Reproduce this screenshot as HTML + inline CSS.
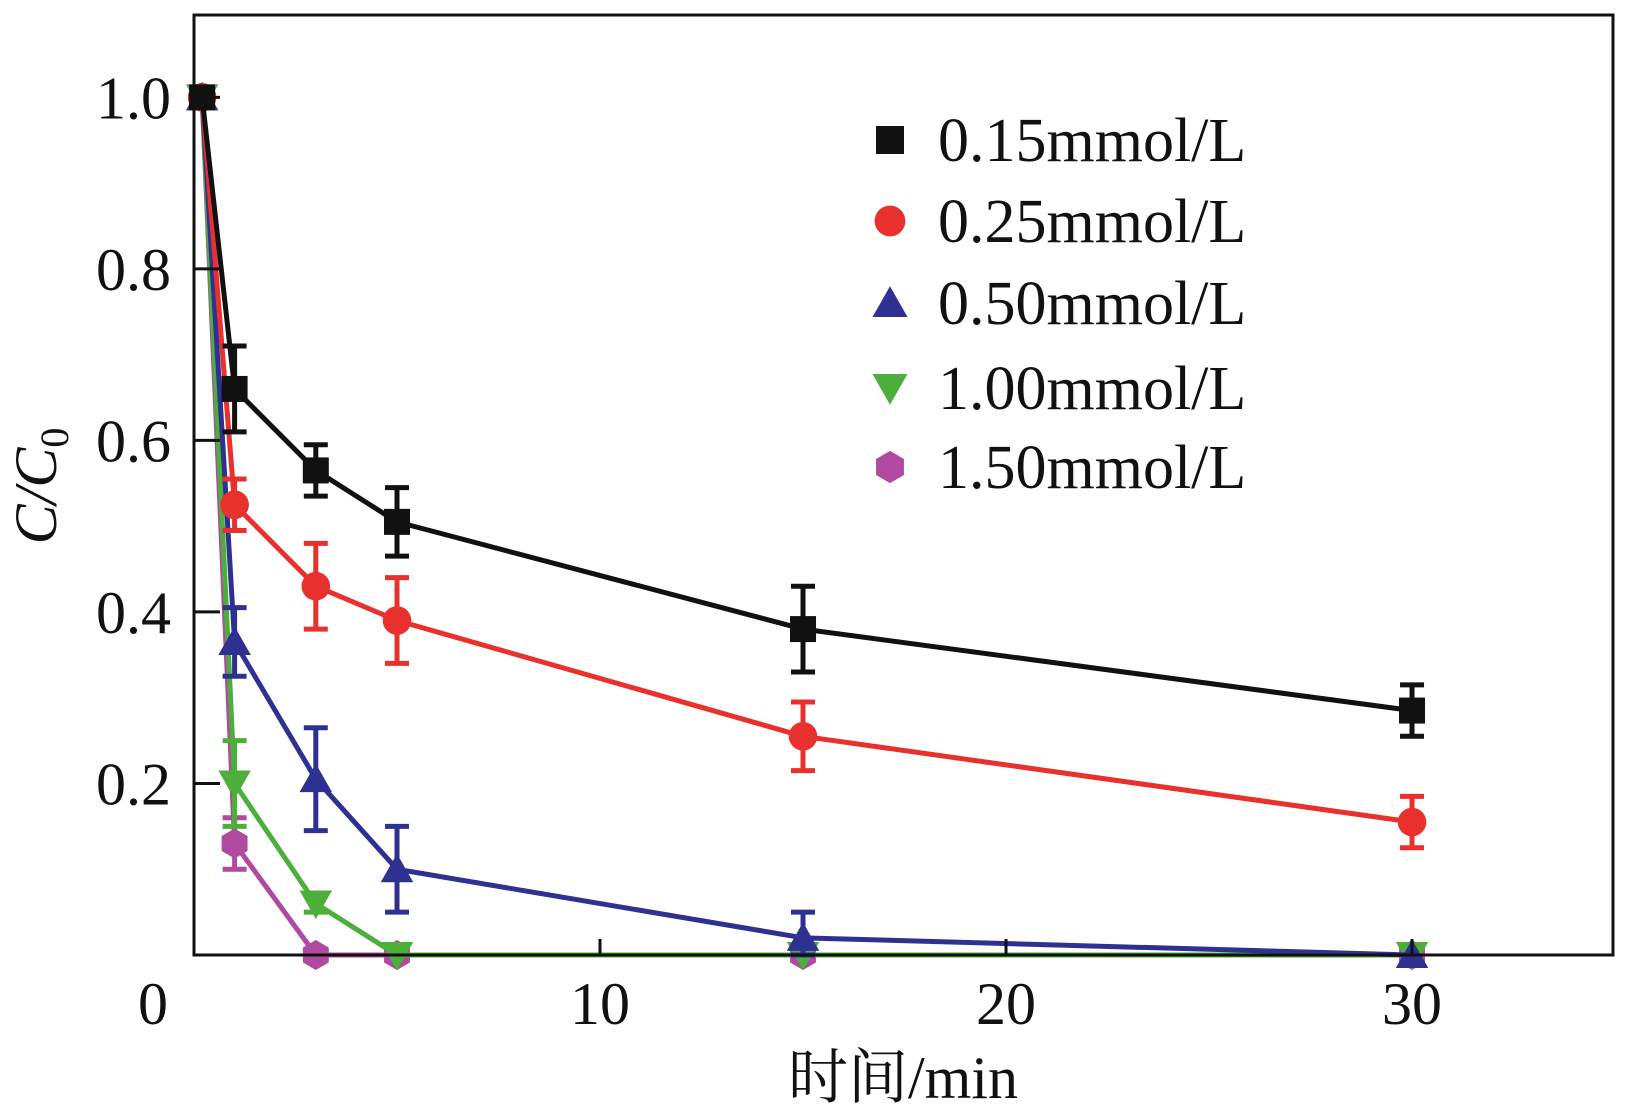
<!DOCTYPE html>
<html><head><meta charset="utf-8"><style>
html,body{margin:0;padding:0;background:#fff;}
svg{display:block;}
text{font-family:"Liberation Serif","Noto Serif CJK SC",serif;fill:#111;}
</style></head><body>
<svg id="chart" width="1625" height="1117" viewBox="0 0 1625 1117" xmlns="http://www.w3.org/2000/svg"></svg>
<script>
const timesMin = [0.2, 1, 3, 5, 15, 30];
const seriesNames = ["0.15mmol/L","0.25mmol/L","0.50mmol/L","1.00mmol/L","1.50mmol/L"];
const s015 = [1.0, 0.66, 0.565, 0.505, 0.38, 0.285];
const s025 = [1.0, 0.525, 0.43, 0.39, 0.255, 0.155];
const s050 = [1.0, 0.365, 0.205, 0.10, 0.02, 0.0];
const s100 = [1.0, 0.20, 0.06, 0.0, 0.0, 0.0];
const s150 = [1.0, 0.13, 0.0, 0.0, 0.0, 0.0];
const e015 = [0, 0.05, 0.03, 0.04, 0.05, 0.03];
const e025 = [0, 0.03, 0.05, 0.05, 0.04, 0.03];
const e050 = [0, 0.04, 0.06, 0.05, 0.03, 0];
const e100 = [0, 0.05, 0.01, 0, 0, 0];
const e150 = [0, 0.03, 0, 0, 0, 0];
const xTicks = [0, 10, 20, 30];
const yTicks = [0.2, 0.4, 0.6, 0.8, 1.0];
const yTickLabels = ["0.2","0.4","0.6","0.8","1.0"];

const L=194,R=1613,T=15,B=955;
const xMax=34.95,yMax=1.096;
const X=v=>L+(v/xMax)*(R-L);
const Y=v=>B-(v/yMax)*(B-T);
const NS="http://www.w3.org/2000/svg";
const svg=document.getElementById('chart');
function mk(tag,attrs,parent){const e=document.createElementNS(NS,tag);for(const k in attrs)e.setAttribute(k,attrs[k]);(parent||svg).appendChild(e);return e;}

const colors=["#111111","#e8312c","#2e3192","#4caf3a","#b04aa0"];
const series=[s015,s025,s050,s100,s150];
const errs=[e015,e025,e050,e100,e150];
const shapes=["square","circle","tri","tridown","hex"];

function marker(shape,cx,cy,s,color,parent){
  let el;
  if(shape==="square") el=mk('rect',{x:cx-s,y:cy-s,width:2*s,height:2*s,fill:color},parent);
  else if(shape==="circle") el=mk('circle',{cx:cx,cy:cy,r:s*1.1,fill:color},parent);
  else if(shape==="tri") el=mk('polygon',{points:`${cx},${cy-s*1.2} ${cx-s*1.25},${cy+s} ${cx+s*1.25},${cy+s}`,fill:color},parent);
  else if(shape==="tridown") el=mk('polygon',{points:`${cx},${cy+s*1.2} ${cx-s*1.25},${cy-s} ${cx+s*1.25},${cy-s}`,fill:color},parent);
  else { let p=[];for(let i=0;i<6;i++){const a=Math.PI/6+i*Math.PI/3;p.push((cx+s*1.15*Math.cos(a))+","+(cy+s*1.15*Math.sin(a)));} el=mk('polygon',{points:p.join(' '),fill:color},parent);}
  return el;
}

// series draw from last to first so black on top
for(let si=series.length-1;si>=0;si--){
  const g=mk('g',{});
  
  
  const vals=series[si],er=errs[si],c=colors[si];
  const pts=vals.map((v,i)=>X(timesMin[i])+","+Y(v)).join(' ');
  const line=mk('polyline',{points:pts,fill:'none',stroke:c,'stroke-width':5,'stroke-linejoin':'round'},g);
  
  
  vals.forEach((v,i)=>{
    const cx=X(timesMin[i]);
    if(er[i]>0){
      const eg=mk('g',{stroke:c,'stroke-width':5,fill:'none'},g);
      
      
      const y1=Y(v+er[i]),y2=Y(Math.max(v-er[i],0));
      mk('line',{x1:cx,y1:y1,x2:cx,y2:y2},eg);
      mk('line',{x1:cx-12,y1:y1,x2:cx+12,y2:y1},eg);
      mk('line',{x1:cx-12,y1:y2,x2:cx+12,y2:y2},eg);
    }
    const m=marker(shapes[si],cx,Y(v),13,c,g);
    
    
  });
}

// axes frame
const frame=mk('rect',{x:L,y:T,width:R-L,height:B-T,fill:'none',stroke:'#111','stroke-width':3});



yTicks.forEach((v,i)=>{
  const t=mk('line',{x1:L,y1:Y(v),x2:L+26,y2:Y(v),stroke:'#111','stroke-width':3});
  
  
  const lb=mk('text',{x:171,y:Y(v)+21,'text-anchor':'end','font-size':60});
  lb.textContent=yTickLabels[i];
  
  
});
xTicks.forEach(v=>{
  if(v>0){const t=mk('line',{x1:X(v),y1:B,x2:X(v),y2:B-16,stroke:'#111','stroke-width':3});
  
  }
  const lb=mk('text',{x:v===0?153:X(v),y:1024,'text-anchor':'middle','font-size':60});
  lb.textContent=String(v);
  
  
});

const xt=mk('text',{x:903,y:1098,'text-anchor':'middle','font-size':60});
xt.textContent='时间/min';



const yt=mk('text',{transform:'translate(56,486) rotate(-90)','text-anchor':'middle','font-size':60,'font-style':'italic'});
yt.innerHTML='C/C<tspan font-size="40" dy="12" font-style="normal">0</tspan>';



// legend
const legY=[140,221,303,388,467];
const lg=mk('g',{});


seriesNames.forEach((n,i)=>{
  const eg=mk('g',{},lg);
  
  
  marker(shapes[i],890,legY[i],14,colors[i],eg);
  const t=mk('text',{x:938,y:legY[i]+21,'font-size':62},eg);
  t.textContent=n;
});
</script>
</body></html>
